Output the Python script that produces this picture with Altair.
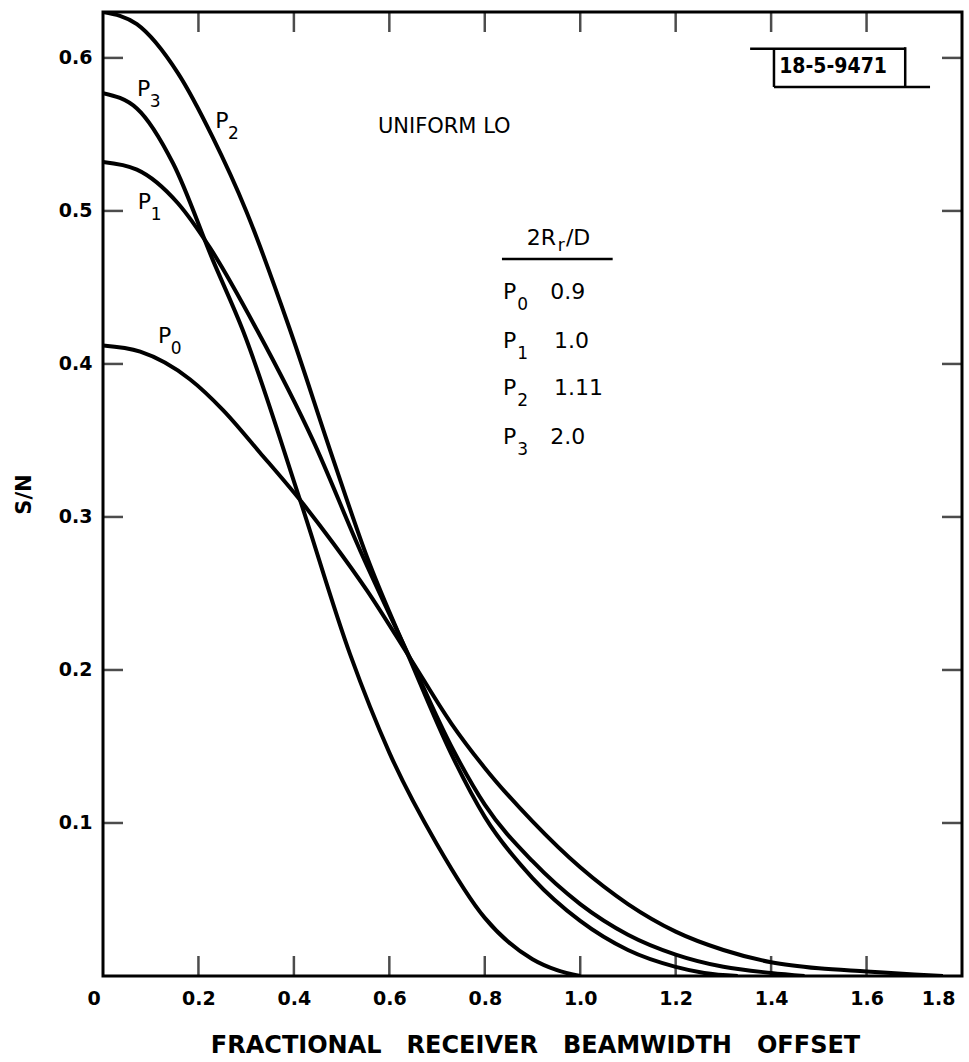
import altair as alt
import pandas as pd

# ---- data ----
P0_x = [0, 0.078, 0.182, 0.251, 0.329, 0.413, 0.482, 0.553, 0.643, 0.73, 0.8, 0.9, 1.0, 1.1, 1.2, 1.3, 1.4, 1.5, 1.6, 1.7, 1.76]
P0_y = [0.412, 0.408, 0.390, 0.370, 0.342, 0.311, 0.283, 0.252, 0.208, 0.165, 0.136, 0.101, 0.071, 0.047, 0.029, 0.017, 0.009, 0.005, 0.003, 0.001, 0.0]

P1_x = [0, 0.071, 0.157, 0.224, 0.323, 0.44, 0.539, 0.643, 0.73, 0.8, 0.9, 1.0, 1.1, 1.2, 1.3, 1.4, 1.47]
P1_y = [0.532, 0.527, 0.505, 0.476, 0.422, 0.350, 0.278, 0.208, 0.150, 0.112, 0.075, 0.047, 0.027, 0.014, 0.006, 0.002, 0.0]

P2_x = [0, 0.071, 0.157, 0.23, 0.30, 0.39, 0.482, 0.553, 0.643, 0.73, 0.8, 0.9, 1.0, 1.1, 1.2, 1.26, 1.33]
P2_y = [0.630, 0.622, 0.590, 0.548, 0.500, 0.424, 0.338, 0.274, 0.207, 0.145, 0.104, 0.064, 0.036, 0.017, 0.006, 0.002, 0.0]

P3_x = [0, 0.071, 0.147, 0.23, 0.293, 0.413, 0.518, 0.6, 0.7, 0.8, 0.9, 0.95, 1.0]
P3_y = [0.577, 0.567, 0.531, 0.468, 0.422, 0.311, 0.210, 0.146, 0.086, 0.038, 0.011, 0.004, 0.0]

x_ticks = [0, 0.2, 0.4, 0.6, 0.8, 1.0, 1.2, 1.4, 1.6, 1.8]
x_inner_ticks = [0.2, 0.4, 0.6, 0.8, 1.0, 1.2, 1.4, 1.6]
y_ticks = [0.1, 0.2, 0.3, 0.4, 0.5, 0.6]
X_MAX = 1.8
Y_MAX = 0.63

# annotation texts (data units)
ann_text = ["P", "P", "P", "P", "UNIFORM LO",
            "2R", "/D",
            "P", "P", "P", "P",
            "0.9", "1.0", "1.11", "2.0"]
ann_x = [0.071, 0.235, 0.073, 0.115, 0.576,
         0.888, 0.97,
         0.838, 0.838, 0.838, 0.838,
         0.937, 0.945, 0.945, 0.937]
ann_y = [0.580, 0.559, 0.506, 0.418, 0.555,
         0.4824, 0.4824,
         0.447, 0.415, 0.384, 0.352,
         0.447, 0.415, 0.384, 0.352]
ann_fs = [22, 22, 22, 22, 21,
          22, 22,
          22, 22, 22, 22,
          22, 22, 22, 22]

sub_text = ["3", "2", "1", "0", "r", "0", "1", "2", "3"]
sub_x = [0.098, 0.262, 0.100, 0.142, 0.953, 0.868, 0.868, 0.868, 0.868]
sub_y = [0.5715, 0.5505, 0.4975, 0.4095, 0.477, 0.4385, 0.4065, 0.3755, 0.3435]

# box "18-5-9471" and legend underline segments
seg_x = [1.356, 1.406, 1.406, 1.681, 0.836]
seg_x2 = [1.681, 1.733, 1.406, 1.681, 1.068]
seg_y = [0.606, 0.581, 0.606, 0.607, 0.4686]
seg_y2 = [0.606, 0.581, 0.581, 0.581, 0.4686]

rows = []
for name, xs, ys in [("P0", P0_x, P0_y), ("P1", P1_x, P1_y), ("P2", P2_x, P2_y), ("P3", P3_x, P3_y)]:
    for i, (a, b) in enumerate(zip(xs, ys)):
        rows.append({"curve": name, "x": a, "y": b, "i": i})
df = pd.DataFrame(rows)

ann = pd.DataFrame({"t": ann_text, "x": ann_x, "y": ann_y, "fs": ann_fs})
subs = pd.DataFrame({"t": sub_text, "x": sub_x, "y": sub_y})
segs = pd.DataFrame({"x": seg_x, "x2": seg_x2, "y": seg_y, "y2": seg_y2})
box = pd.DataFrame({"t": ["18-5-9471"], "x": [1.417], "y": [0.594]})

FONT = "DejaVu Sans"
xs_ = alt.Scale(domain=[0, X_MAX], nice=False, zero=False)
ys_ = alt.Scale(domain=[0, Y_MAX], nice=False, zero=False)

x_axis = alt.Axis(
    values=x_ticks, ticks=False, tickSize=0, domain=False, grid=False,
    labelExpr="datum.value == 0 ? '0' : format(datum.value, '.1f')",
    labelFont=FONT, labelFontSize=19, labelFontWeight="bold", labelColor="black",
    labelPadding=13,
    labelOffset={"condition": [{"test": "datum.value == 0", "value": -16},
                               {"test": "datum.value == 1.8", "value": -7}], "value": 0},
    title="FRACTIONAL\u00a0\u00a0 RECEIVER\u00a0\u00a0 BEAMWIDTH\u00a0\u00a0 OFFSET",
    titleFont=FONT, titleFontSize=24, titleFontWeight="bold", titleColor="black",
    titleX=432, titleY=69, titleBaseline="middle", titleAlign="center",
)
y_axis = alt.Axis(
    values=y_ticks, ticks=False, tickSize=0, domain=False, grid=False,
    format=".1f",
    labelFont=FONT, labelFontSize=19, labelFontWeight="bold", labelColor="black",
    labelPadding=11,
    title="S/N", titleFont=FONT, titleFontSize=21, titleFontWeight="bold", titleColor="black",
    titleAngle=270, titleX=-79, titleY=482, titleBaseline="middle", titleAlign="center",
)

lines = alt.Chart(df).mark_line(color="black", strokeWidth=4, interpolate="monotone", clip=True).encode(
    x=alt.X("x:Q", scale=xs_, axis=x_axis),
    y=alt.Y("y:Q", scale=ys_, axis=y_axis),
    detail="curve:N",
    order="i:Q",
)

xt = pd.DataFrame({"x": x_inner_ticks})
yt = pd.DataFrame({"y": y_ticks})
tick_kw = dict(color="black", thickness=2.5, size=20)
bottom_ticks = alt.Chart(xt).mark_tick(orient="vertical", yOffset=-10, **tick_kw).encode(
    x=alt.X("x:Q", scale=xs_), y=alt.datum(0, scale=ys_))
top_ticks = alt.Chart(xt).mark_tick(orient="vertical", yOffset=10, **tick_kw).encode(
    x=alt.X("x:Q", scale=xs_), y=alt.datum(Y_MAX, scale=ys_))
left_ticks = alt.Chart(yt).mark_tick(orient="horizontal", xOffset=10, **tick_kw).encode(
    y=alt.Y("y:Q", scale=ys_), x=alt.datum(0, scale=xs_))
right_ticks = alt.Chart(yt).mark_tick(orient="horizontal", xOffset=-10, **tick_kw).encode(
    y=alt.Y("y:Q", scale=ys_), x=alt.datum(X_MAX, scale=xs_))

texts = alt.Chart(ann).mark_text(font=FONT, align="left", baseline="middle", color="black").encode(
    x=alt.X("x:Q", scale=xs_), y=alt.Y("y:Q", scale=ys_), text="t:N",
    size=alt.Size("fs:Q", scale=None))
subtexts = alt.Chart(subs).mark_text(font=FONT, align="left", baseline="middle", color="black", fontSize=17).encode(
    x=alt.X("x:Q", scale=xs_), y=alt.Y("y:Q", scale=ys_), text="t:N")
segments = alt.Chart(segs).mark_rule(color="black", strokeWidth=2.5).encode(
    x=alt.X("x:Q", scale=xs_), x2="x2:Q", y=alt.Y("y:Q", scale=ys_), y2="y2:Q")
boxtext = alt.Chart(box).mark_text(font="DejaVu Sans Condensed", fontWeight="bold", fontSize=21,
                                   align="left", baseline="middle", color="black").encode(
    x=alt.X("x:Q", scale=xs_), y=alt.Y("y:Q", scale=ys_), text="t:N")

chart = alt.layer(
    lines, bottom_ticks, top_ticks, left_ticks, right_ticks, texts, subtexts, segments, boxtext
).properties(
    width=859, height=964,
    autosize=alt.AutoSizeParams(type="none"),
    padding={"left": 103, "top": 12, "right": 7, "bottom": 86},
    background="white",
).configure_view(stroke="black", strokeWidth=3)

chart.save("out.html", embed_options={"renderer": "svg", "actions": False})
